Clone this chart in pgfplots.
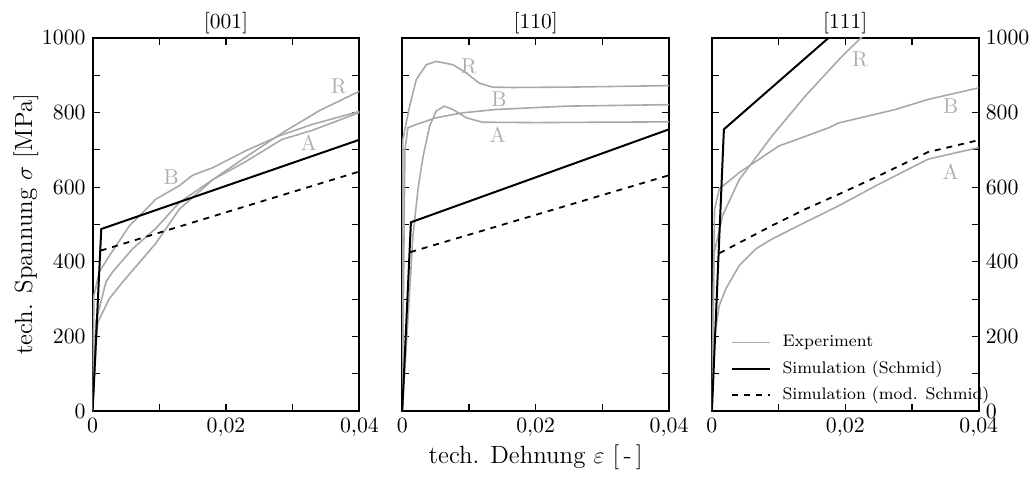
\documentclass[border=0pt]{standalone}
\usepackage{pgfplots}
\pgfplotsset{compat=1.18}
\usepgfplotslibrary{groupplots}

\definecolor{expgray}{RGB}{168,168,168}
\definecolor{lblgray}{RGB}{175,175,175}
\newcommand\tickf{\fontsize{10.8}{13}\selectfont}
\newcommand\labf{\fontsize{12.5}{15}\selectfont}
\newcommand\legf{\fontsize{8.4}{10.5}\selectfont}

\begin{document}
\begin{tikzpicture}
\begin{groupplot}[
  group style={group size=3 by 1, horizontal sep=21.5pt},
  scale only axis,
  width=134pt, height=187.5pt,
  xmin=0, xmax=0.04, ymin=0, ymax=1000,
  xtick={0,0.02,0.04},
  xticklabels={$0$,$0{,}02$,$0{,}04$},
  minor xtick={0.01,0.03},
  ytick={0,200,400,600,800,1000},
  minor ytick={100,300,500,700,900},
  /pgf/number format/1000 sep={},
  tick label style={font=\tickf},
  label style={font=\labf},
  xlabel style={yshift=2.5pt},
  ylabel style={yshift=-5pt},
  title style={font=\tickf, yshift=-7.5pt},
  tick align=inside,
  major tick length=3.5pt, minor tick length=3.5pt,
  every tick/.style={black, line width=0.6pt},
  axis line style={line width=1pt},
  scaled x ticks=false,
  clip=true,
]
% ---------------- [001]
\nextgroupplot[title={[001]},
  ylabel={tech. Spannung $\sigma$ [MPa]},
  yticklabel pos=left]
\addplot[expgray, line width=0.8pt] coordinates {
  (0,0)(0.0002,310)(0.001,373)(0.0025,416)(0.0055,496)(0.0095,568)
  (0.013,604)(0.015,632)(0.018,652)(0.0229,697)(0.0279,737)(0.0329,768)(0.04,803)};
\addplot[expgray, line width=0.8pt] coordinates {
  (0,0)(0.0005,240)(0.002,346)(0.003,373)(0.006,435)(0.0095,490)
  (0.013,559)(0.018,620)(0.0229,668)(0.0284,728)(0.0329,752)(0.04,800)};
\addplot[expgray, line width=0.8pt] coordinates {
  (0,0)(0.0006,200)(0.0008,239)(0.0025,301)(0.0045,346)(0.0095,450)
  (0.013,541)(0.018,620)(0.0229,680)(0.0284,745)(0.034,805)(0.04,857)};
\addplot[black, line width=1pt] coordinates {(0,0)(0.0013,488)(0.04,727)};
\addplot[black, dashed, line width=0.9pt] coordinates {(0.0012,430)(0.04,642)};
\node[lblgray, font=\tickf] at (axis cs:0.0118,627) {B};
\node[lblgray, font=\tickf] at (axis cs:0.0324,720) {A};
\node[lblgray, font=\tickf] at (axis cs:0.0369,869) {R};
% ---------------- [110]
\nextgroupplot[title={[110]},
  xlabel={tech. Dehnung $\varepsilon$ [\,-\,]},
  yticklabels={}]
\addplot[expgray, line width=0.8pt] coordinates {
  (0,0)(0.0001,728)(0.0011,817)(0.0021,888)(0.0036,928)(0.0051,937)
  (0.0076,928)(0.0096,906)(0.0115,879)(0.0135,868)(0.0166,867)(0.025,868)(0.04,872)};
\addplot[expgray, line width=0.8pt] coordinates {
  (0,0)(0.0004,700)(0.00085,759)(0.0021,768)(0.0051,786)(0.009,799)
  (0.014,808)(0.0245,817)(0.04,821)};
\addplot[expgray, line width=0.8pt] coordinates {
  (0,0)(0.0008,230)(0.0016,470)(0.0024,600)(0.0031,680)(0.0041,764)
  (0.0051,804)(0.0063,817)(0.0076,808)(0.0096,786)(0.012,774)(0.02,773)(0.04,775)};
\addplot[black, line width=1pt] coordinates {(0,0)(0.0013,506)(0.04,755)};
\addplot[black, dashed, line width=0.9pt] coordinates {(0.0012,426)(0.04,632)};
\node[lblgray, font=\tickf] at (axis cs:0.0100,923) {R};
\node[lblgray, font=\tickf] at (axis cs:0.0145,835) {B};
\node[lblgray, font=\tickf] at (axis cs:0.0143,741) {A};
% ---------------- [111]
\nextgroupplot[title={[111]},
  yticklabel pos=right,
  legend cell align=left,
  legend image code/.code={\draw[#1] (0pt,0pt) -- (19pt,0pt);},
  legend style={at={(rel axis cs:0.047,0.0)}, anchor=south west,
    draw=none, fill=none, font=\legf, row sep=1.5pt,
    /tikz/every odd column/.append style={column sep=4pt}}]
\addlegendimage{expgray, line width=0.8pt}
\addlegendentry{Experiment}
\addlegendimage{black, line width=1pt}
\addlegendentry{Simulation (Schmid)}
\addlegendimage{black, dashed, line width=0.9pt}
\addlegendentry{Simulation (mod. Schmid)}
\addplot[expgray, line width=0.8pt, forget plot] coordinates {
  (0,0)(0.0004,540)(0.0011,595)(0.0041,639)(0.01,710)(0.0175,759)
  (0.019,772)(0.0275,808)(0.0324,835)(0.04,866)};
\addplot[expgray, line width=0.8pt, forget plot] coordinates {
  (0,0)(0.0003,420)(0.0016,524)(0.0041,620)(0.009,737)(0.014,844)
  (0.019,941)(0.0225,1003)};
\addplot[expgray, line width=0.8pt, forget plot] coordinates {
  (0,0)(0.00035,195)(0.0011,283)(0.0021,328)(0.0041,390)(0.0066,435)
  (0.009,461)(0.014,506)(0.019,550)(0.0245,603)(0.0324,675)(0.04,706)};
\addplot[black, line width=1pt, forget plot] coordinates {(0,0)(0.0018,755)(0.0175,1000)(0.02,1040)};
\addplot[black, dashed, line width=0.9pt, forget plot] coordinates {
  (0.0011,423)(0.009,497)(0.014,541)(0.019,581)(0.0245,626)(0.0324,694)(0.04,726)};
\node[lblgray, font=\tickf] at (axis cs:0.0222,941) {R};
\node[lblgray, font=\tickf] at (axis cs:0.0358,816) {B};
\node[lblgray, font=\tickf] at (axis cs:0.0358,640) {A};
\end{groupplot}
% fix the page to the reference's margins
\path ([xshift=-46.5pt,yshift=-29pt]group c1r1.south west)
  rectangle ([xshift=26.5pt,yshift=19pt]group c3r1.north east);
\end{tikzpicture}
\end{document}
